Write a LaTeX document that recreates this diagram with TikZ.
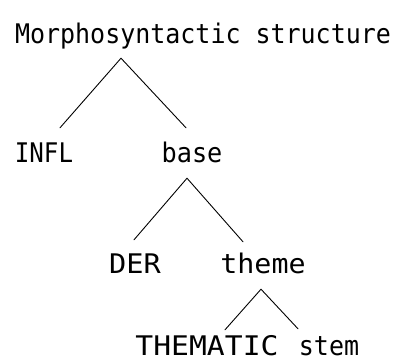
\documentclass[tikz,border=0pt]{standalone}
\usepackage{graphicx}
\usepackage{fontspec}
\newfontfamily\lblfont{DejaVu Sans Mono}
\usetikzlibrary{calc}
\newcommand{\sx}[2]{\scalebox{#1}[1]{#2}}
\tikzset{
  lbl/.style={font=\lblfont\fontsize{27pt}{31pt}\selectfont, inner sep=0pt, anchor=base, text height=20pt, text depth=2pt},
  edge/.style={line width=0.9pt, line cap=round}
}
\begin{document}
\begin{tikzpicture}[x=1pt,y=-1pt]
\useasboundingbox (0,0) rectangle (403,362);
\node[lbl] (root) at (203,43) {\sx{0.925}{Morphosyntactic structure}};
\node[lbl] (infl) at (44,162) {\sx{0.895}{INFL}};
\node[lbl] (base) at (192,162) {\sx{0.934}{base}};
\node[lbl] (der) at (135,273) {\sx{1.06}{DER}};
\node[lbl] (theme) at (263,273) {\sx{1.05}{theme}};
\node[lbl] (thematic) at (207,355) {\sx{1.10}{THEMATIC}};
\node[lbl] (stem) at (329,355) {\sx{0.925}{stem}};
\coordinate (ra) at ([xshift=-82pt,yshift=-13pt]root.south);
\coordinate (ba) at ([xshift=-5pt,yshift=-14pt]base.south);
\coordinate (ta) at ([xshift=-2pt,yshift=-14pt]theme.south);
\draw[edge] ([xshift=16pt,yshift=14pt]infl.north) -- (ra) -- ([xshift=-6pt,yshift=14pt]base.north);
\draw[edge] ([xshift=-1pt,yshift=13pt]der.north) -- (ba) -- ([xshift=-20pt,yshift=11pt]theme.north);
\draw[edge] ([xshift=18pt,yshift=5pt]thematic.north) -- (ta) -- ([xshift=-31pt,yshift=6pt]stem.north);
\end{tikzpicture}
\end{document}
